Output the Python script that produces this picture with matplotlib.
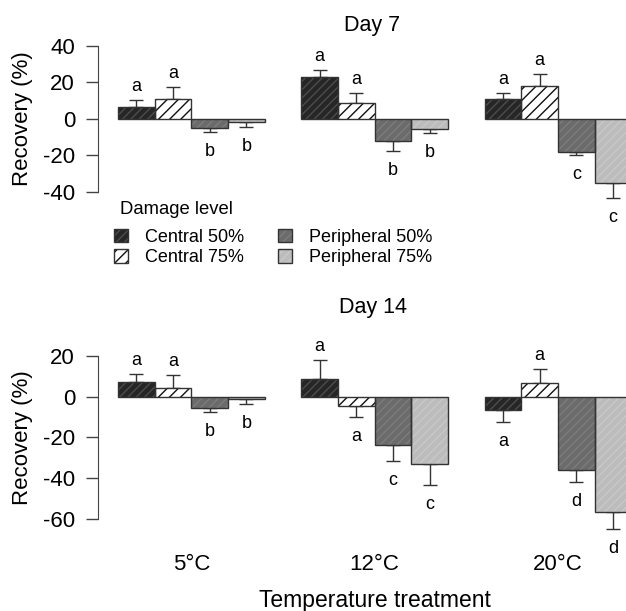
import matplotlib
matplotlib.use("Agg")
import matplotlib.pyplot as plt
import numpy as np
from matplotlib.patches import Patch
from matplotlib.legend_handler import HandlerTuple
from matplotlib.transforms import blended_transform_factory

plt.rcParams['font.family'] = ['Liberation Sans', 'DejaVu Sans']
plt.rcParams['hatch.linewidth'] = 1.0
plt.rcParams['axes.unicode_minus'] = False

temps = ['5°C', '12°C', '20°C']
damage = ['Central 50%', 'Central 75%', 'Peripheral 50%', 'Peripheral 75%']

# Day 7: rows = damage level, columns = temperature
d7_mean = [[6.2, 23.0, 10.8], [11.0, 8.8, 17.7], [-5.1, -12.1, -18.2], [-1.8, -5.8, -35.2]]
d7_se = [[4.2, 3.5, 3.3], [6.5, 5.3, 7.0], [2.0, 5.4, 1.5], [2.9, 1.9, 8.2]]
d7_letters = [['a', 'a', 'a'], ['a', 'a', 'a'], ['b', 'b', 'c'], ['b', 'b', 'c']]

# Day 14
d14_mean = [[7.1, 8.8, -6.7], [4.4, -4.8, 6.6], [-5.4, -23.6, -36.2], [-1.3, -33.1, -56.5]]
d14_se = [[4.1, 9.2, 5.6], [6.1, 5.4, 7.2], [2.1, 8.2, 5.7], [2.3, 10.5, 8.5]]
d14_letters = [['a', 'a', 'a'], ['a', 'a', 'a'], ['b', 'c', 'd'], ['b', 'c', 'd']]

fills = ['#262626', 'white', '#6b6b6b', '#bcbcbc']
hatches = ['////', '///', '////', '////']
hatch_cols = ['#4d4d4d', '#111111', '#7c7c7c', '#c8c8c8']
edge = '#333333'

W, H = 626, 611
fig = plt.figure(figsize=(W / 100, H / 100), dpi=100)


def panel(ax, mean, se, letters, yl, ticks):
    mean = np.array(mean)
    se = np.array(se)
    for i in range(4):
        x = np.arange(3) * 5 + i + 1.5
        lo = np.where(mean[i] < 0, se[i], 0)
        hi = np.where(mean[i] >= 0, se[i], 0)
        ax.errorbar(x, mean[i], yerr=[lo, hi], fmt='none', ecolor=edge,
                    elinewidth=1, capsize=5.3, capthick=1, zorder=1)
        # fill, then hatch, then outline on top
        ax.bar(x, mean[i], width=1, color=fills[i], linewidth=0, zorder=2)
        ax.bar(x, mean[i], width=1, fill=False, hatch=hatches[i],
               edgecolor=hatch_cols[i], linewidth=0, zorder=3)
        ax.bar(x, mean[i], width=1, fill=False, edgecolor=edge, linewidth=1, zorder=4)
        for xx, m, s, lab in zip(x, mean[i], se[i], letters[i]):
            if m >= 0:
                ax.annotate(lab, (xx, m + s), xytext=(0, 9.7), textcoords='offset points',
                            ha='center', va='center', fontsize=13)
            else:
                ax.annotate(lab, (xx, m - s), xytext=(0, -14), textcoords='offset points',
                            ha='center', va='center', fontsize=13)
    ax.set_xlim(0.4545, 16)
    ax.set_ylim(*yl)
    for s in ['top', 'right', 'bottom']:
        ax.spines[s].set_visible(False)
    ax.spines['left'].set_bounds(ticks[0], ticks[-1])
    ax.spines['left'].set_color('#444444')
    ax.set_yticks(ticks)
    ax.set_xticks([])
    ax.tick_params(axis='y', length=8.6, width=1, color='#444444', labelsize=16, pad=7.9)
    ax.patch.set_alpha(0)


# top panel: 0 at 118.7 px, 1.825 px per unit
ax1 = fig.add_axes([98 / W, 1 - 228.2 / H, 570 / W, 191.6 / H])
panel(ax1, d7_mean, d7_se, d7_letters, (-60, 45), [-40, -20, 0, 20, 40])

# bottom panel: 0 at 396.7 px, 2.035 px per unit
ax2 = fig.add_axes([98 / W, 1 - 555.4 / H, 570 / W, 209.6 / H])
panel(ax2, d14_mean, d14_se, d14_letters, (-78, 25), [-60, -40, -20, 0, 20])

fig.text(372 / W, 1 - 25 / H, 'Day 7', ha='center', va='center', fontsize=15.5)
fig.text(373 / W, 1 - 308 / H, 'Day 14', ha='center', va='center', fontsize=15.5)
fig.text(22.5 / W, 1 - 119 / H, 'Recovery (%)', rotation=90, ha='center', va='center', fontsize=16)
fig.text(22.5 / W, 1 - 437.5 / H, 'Recovery (%)', rotation=90, ha='center', va='center', fontsize=16)

tr = blended_transform_factory(ax2.transData, fig.transFigure)
for g, t in enumerate(temps):
    ax2.text(g * 5 + 3, 1 - 565 / H, t, transform=tr, ha='center', va='center', fontsize=16)
fig.text(375 / W, 1 - 600 / H, 'Temperature treatment', ha='center', va='center', fontsize=16.5)

fig.text(120 / W, 1 - 210 / H, 'Damage level', ha='left', va='center', fontsize=13.3)
handles = []
for i in range(4):
    handles.append((Patch(facecolor=fills[i], linewidth=0),
                    Patch(fill=False, hatch=hatches[i], edgecolor=hatch_cols[i], linewidth=0),
                    Patch(fill=False, edgecolor=edge, linewidth=1)))
fig.legend(handles, damage, ncol=2, loc='center left', bbox_to_anchor=(114 / W, 1 - 247.5 / H),
           frameon=False, handler_map={tuple: HandlerTuple(ndivide=1, pad=0)},
           fontsize=13, handlelength=0.75, handleheight=0.75,
           handletextpad=0.95, columnspacing=1.9, labelspacing=0.2,
           borderaxespad=0, borderpad=0)

fig.savefig('out.png', dpi=100)
